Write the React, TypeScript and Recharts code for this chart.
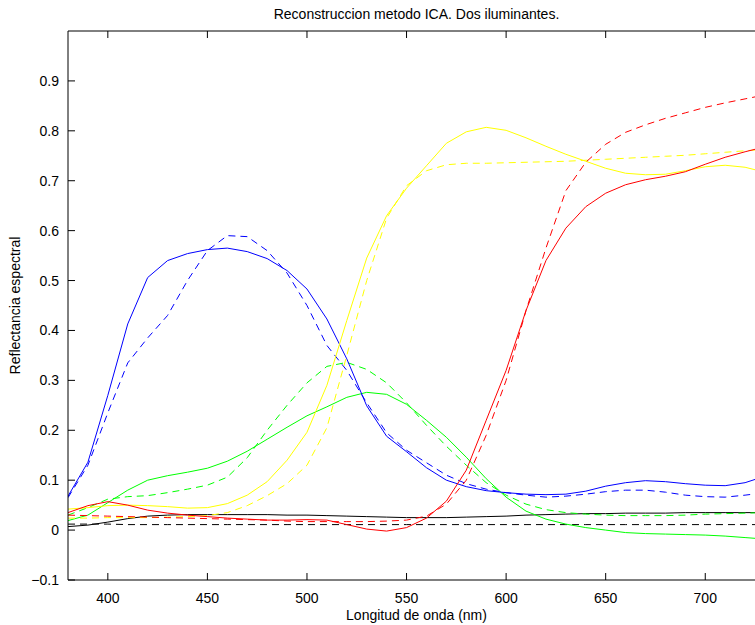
import React from "react";
import { LineChart, Line, XAxis, YAxis } from "recharts";

const wavelengths = [380,390,400,410,420,430,440,450,460,470,480,490,500,510,520,530,540,550,560,570,580,590,600,610,620,630,640,650,660,670,680,690,700,710,720,730];

const blueSolid = [0.068,0.136,0.27,0.413,0.506,0.54,0.554,0.562,0.565,0.558,0.544,0.52,0.483,0.423,0.343,0.249,0.188,0.157,0.125,0.1,0.087,0.079,0.075,0.072,0.071,0.072,0.078,0.088,0.095,0.099,0.097,0.093,0.09,0.089,0.095,0.108];
const blueDashed = [0.065,0.13,0.235,0.335,0.385,0.43,0.5,0.56,0.59,0.588,0.56,0.515,0.45,0.37,0.32,0.255,0.195,0.16,0.135,0.11,0.093,0.082,0.075,0.07,0.066,0.068,0.072,0.077,0.08,0.08,0.076,0.07,0.067,0.066,0.07,0.075];
const greenSolid = [0.019,0.03,0.055,0.08,0.1,0.109,0.116,0.124,0.138,0.158,0.182,0.206,0.229,0.247,0.266,0.276,0.272,0.252,0.22,0.186,0.146,0.103,0.066,0.038,0.022,0.012,0.005,0.0,-0.005,-0.007,-0.008,-0.009,-0.01,-0.012,-0.015,-0.018];
const greenDashed = [0.03,0.045,0.062,0.067,0.069,0.075,0.082,0.09,0.106,0.145,0.2,0.25,0.295,0.328,0.336,0.322,0.295,0.255,0.21,0.168,0.13,0.095,0.07,0.052,0.041,0.035,0.032,0.03,0.029,0.029,0.029,0.03,0.032,0.033,0.034,0.035];
const yellowSolid = [0.042,0.045,0.049,0.05,0.049,0.047,0.044,0.045,0.053,0.07,0.097,0.14,0.196,0.29,0.42,0.545,0.63,0.685,0.73,0.775,0.798,0.807,0.801,0.786,0.769,0.753,0.739,0.725,0.715,0.712,0.713,0.72,0.728,0.731,0.727,0.717];
const yellowDashed = [0.024,0.024,0.025,0.025,0.025,0.026,0.027,0.029,0.035,0.049,0.069,0.093,0.13,0.205,0.35,0.5,0.625,0.69,0.72,0.732,0.735,0.735,0.736,0.737,0.738,0.739,0.741,0.743,0.745,0.747,0.749,0.751,0.754,0.757,0.76,0.763];
const redSolid = [0.035,0.049,0.057,0.05,0.04,0.034,0.03,0.027,0.024,0.022,0.02,0.02,0.021,0.02,0.011,0.002,-0.002,0.005,0.024,0.058,0.12,0.22,0.32,0.44,0.54,0.605,0.648,0.675,0.692,0.702,0.709,0.718,0.733,0.747,0.758,0.768];
const redDashed = [0.03,0.029,0.028,0.027,0.026,0.025,0.024,0.023,0.022,0.021,0.02,0.018,0.017,0.017,0.017,0.017,0.018,0.02,0.028,0.052,0.1,0.19,0.3,0.44,0.565,0.68,0.737,0.773,0.797,0.812,0.825,0.836,0.847,0.856,0.864,0.872];
const blackSolid = [0.007,0.01,0.016,0.023,0.028,0.03,0.031,0.031,0.031,0.031,0.031,0.03,0.03,0.029,0.028,0.027,0.026,0.025,0.025,0.025,0.026,0.027,0.028,0.03,0.031,0.032,0.033,0.033,0.034,0.034,0.034,0.035,0.035,0.035,0.035,0.035];
const blackDashed = [0.012,0.012,0.012,0.011,0.011,0.011,0.011,0.011,0.011,0.011,0.011,0.011,0.011,0.011,0.011,0.011,0.011,0.011,0.011,0.011,0.011,0.011,0.011,0.011,0.011,0.011,0.011,0.011,0.011,0.011,0.011,0.011,0.011,0.011,0.011,0.011];

const xTicks = [400,450,500,550,600,650,700];
const yTicks = [-0.1,0,0.1,0.2,0.3,0.4,0.5,0.6,0.7,0.8,0.9];

const title = "Reconstruccion metodo ICA. Dos iluminantes.";
const xLabel = "Longitud de onda (nm)";
const yLabel = "Reflectancia espectral";

const data = wavelengths.map((nm, i) => ({
  nm,
  bs: blueSolid[i], bd: blueDashed[i],
  gs: greenSolid[i], gd: greenDashed[i],
  ys: yellowSolid[i], yd: yellowDashed[i],
  rs: redSolid[i], rd: redDashed[i],
  ks: blackSolid[i], kd: blackDashed[i],
}));

const FONT = "'Liberation Sans', Arial, Helvetica, sans-serif";
const FS = 14;
const TICK_LEN = 7;

const fmtY = (v: number) => {
  if (Math.abs(v) < 1e-9) return "0";
  if (v < 0) return "\u2212" + Math.abs(v).toFixed(1);
  return v.toFixed(1);
};

const BottomTick = (props: any) => {
  const { x, y, payload } = props;
  return (
    <g>
      <line x1={x} y1={y} x2={x} y2={y - TICK_LEN} stroke="#000" strokeWidth={1} />
      <text x={x} y={y + 23} textAnchor="middle" fontSize={FS} fontFamily={FONT} fill="#000">
        {payload.value}
      </text>
    </g>
  );
};

const TopTick = (props: any) => {
  const { x, y } = props;
  return <line x1={x} y1={y} x2={x} y2={y + TICK_LEN} stroke="#000" strokeWidth={1} />;
};

const LeftTick = (props: any) => {
  const { x, y, payload } = props;
  return (
    <g>
      <line x1={x} y1={y} x2={x + TICK_LEN} y2={y} stroke="#000" strokeWidth={1} />
      <text x={x - 9} y={y + 5} textAnchor="end" fontSize={FS} fontFamily={FONT} fill="#000">
        {fmtY(payload.value)}
      </text>
    </g>
  );
};

export default function App() {
  return (
    <div style={{ position: "absolute", left: 0, top: 0, width: 755, height: 625, overflow: "hidden", background: "#fff" }}>
      <LineChart width={800} height={625} data={data} margin={{ top: 0, right: 35, left: 0, bottom: 0 }}>
        <XAxis
          dataKey="nm"
          type="number"
          domain={[380, 730]}
          ticks={xTicks}
          allowDataOverflow
          height={45}
          tickSize={0}
          tickMargin={0}
          tickLine={false}
          axisLine={{ stroke: "#000", strokeWidth: 1 }}
          tick={<BottomTick />}
          interval={0}
          label={(p: any) => {
            const vb = p.viewBox || {};
            return (
              <text x={vb.x + vb.width / 2} y={620} textAnchor="middle" fontSize={FS} fontFamily={FONT} fill="#000">
                {xLabel}
              </text>
            );
          }}
        />
        <XAxis
          xAxisId="top"
          orientation="top"
          dataKey="nm"
          type="number"
          domain={[380, 730]}
          ticks={xTicks}
          allowDataOverflow
          height={31}
          tickSize={0}
          tickMargin={0}
          tickLine={false}
          axisLine={{ stroke: "#000", strokeWidth: 1 }}
          tick={<TopTick />}
          interval={0}
          label={(p: any) => {
            const vb = p.viewBox || {};
            return (
              <text x={vb.x + vb.width / 2} y={19} textAnchor="middle" fontSize={FS} fontFamily={FONT} fill="#000">
                {title}
              </text>
            );
          }}
        />
        <YAxis
          type="number"
          domain={[-0.1, 1.0]}
          ticks={yTicks}
          allowDataOverflow
          width={68}
          tickSize={0}
          tickMargin={0}
          tickLine={false}
          axisLine={{ stroke: "#000", strokeWidth: 1 }}
          tick={<LeftTick />}
          interval={0}
          label={(p: any) => {
            const vb = p.viewBox || {};
            const cy = vb.y + vb.height / 2;
            return (
              <text x={20} y={cy} transform={`rotate(-90 20 ${cy})`} textAnchor="middle" fontSize={FS} fontFamily={FONT} fill="#000">
                {yLabel}
              </text>
            );
          }}
        />
        <Line dataKey="ks" type="linear" stroke="#000000" strokeWidth={1} dot={false} isAnimationActive={false} />
        <Line dataKey="kd" type="linear" stroke="#000000" strokeWidth={1} strokeDasharray="7 5" dot={false} isAnimationActive={false} />
        <Line dataKey="gs" type="linear" stroke="#00ff00" strokeWidth={1} dot={false} isAnimationActive={false} />
        <Line dataKey="gd" type="linear" stroke="#00ff00" strokeWidth={1} strokeDasharray="7 5" dot={false} isAnimationActive={false} />
        <Line dataKey="bs" type="linear" stroke="#0000ff" strokeWidth={1} dot={false} isAnimationActive={false} />
        <Line dataKey="bd" type="linear" stroke="#0000ff" strokeWidth={1} strokeDasharray="7 5" dot={false} isAnimationActive={false} />
        <Line dataKey="ys" type="linear" stroke="#ffff00" strokeWidth={1} dot={false} isAnimationActive={false} />
        <Line dataKey="yd" type="linear" stroke="#ffff00" strokeWidth={1} strokeDasharray="7 5" dot={false} isAnimationActive={false} />
        <Line dataKey="rs" type="linear" stroke="#ff0000" strokeWidth={1} dot={false} isAnimationActive={false} />
        <Line dataKey="rd" type="linear" stroke="#ff0000" strokeWidth={1} strokeDasharray="7 5" dot={false} isAnimationActive={false} />
      </LineChart>
    </div>
  );
}
